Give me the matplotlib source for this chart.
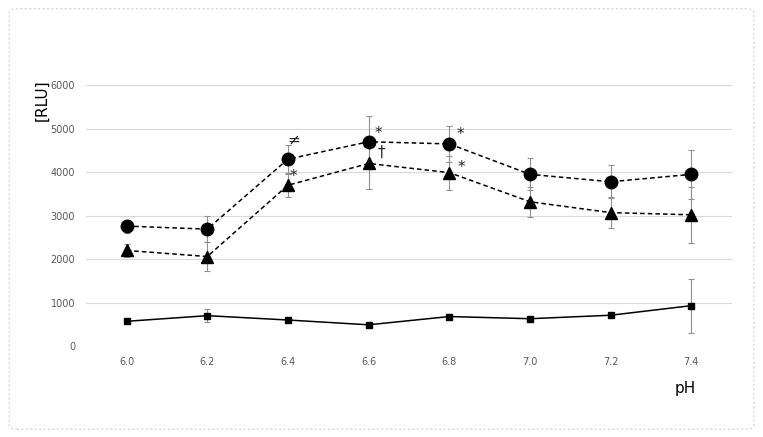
import matplotlib.pyplot as plt
from matplotlib.patches import FancyBboxPatch

ph_labels = ['6.0', '6.2', '6.4', '6.6', '6.8', '7.0', '7.2', '7.4']

circle_vals = [2760, 2690, 4300, 4700, 4650, 3950, 3780, 3950]
circle_err = [150, 300, 330, 590, 420, 370, 380, 560]

triangle_vals = [2200, 2060, 3700, 4200, 3990, 3320, 3070, 3020]
triangle_err = [150, 330, 260, 580, 390, 350, 350, 640]

square_vals = [570, 700, 600, 490, 680, 630, 710, 930]
square_err = [40, 150, 40, 30, 40, 40, 50, 620]

# significance marks: (series, index, symbol, dx, dy) offsets in points
marks = [
    ('circle', 2, '\u2260', 4, 14),
    ('triangle', 2, '*', 4, 6),
    ('circle', 3, '*', 7, 6),
    ('triangle', 3, '\u2020', 9, 8),
    ('circle', 4, '*', 8, 7),
    ('triangle', 4, '*', 9, 4),
]

fig = plt.figure(figsize=(7.63, 4.37), dpi=100)
border = FancyBboxPatch((0.012, 0.018), 0.976, 0.962, boxstyle='round,pad=0,rounding_size=0.01',
                        transform=fig.transFigure, fill=False, edgecolor='#d0d0d0',
                        linestyle=(0, (2, 2)), linewidth=0.8)
fig.patches.append(border)

ax = fig.add_axes([0.113, 0.208, 0.846, 0.597])
x = list(range(len(ph_labels)))

err_kw = dict(ecolor='#909090', elinewidth=0.8, capsize=2, capthick=0.8)
ax.errorbar(x, circle_vals, yerr=circle_err, color='black', linestyle=(0, (3, 2)),
            linewidth=1.1, marker='o', markersize=9, zorder=3, **err_kw)
ax.errorbar(x, triangle_vals, yerr=triangle_err, color='black', linestyle=(0, (3, 2)),
            linewidth=1.1, marker='^', markersize=8, zorder=3, **err_kw)
ax.errorbar(x, square_vals, yerr=square_err, color='black', linestyle='-',
            linewidth=1.1, marker='s', markersize=5, zorder=3, **err_kw)

series = {'circle': circle_vals, 'triangle': triangle_vals}
for name, i, sym, dx, dy in marks:
    ax.annotate(sym, (x[i], series[name][i]), xytext=(dx, dy), textcoords='offset points',
                fontsize=11, ha='center', va='center', color='#222222')

ax.set_xlim(-0.5, 7.5)
ax.set_ylim(0, 6000)
ax.set_yticks(range(0, 6001, 1000))
ax.set_xticks(x)
ax.set_xticklabels(ph_labels)
ax.grid(axis='y', color='#d9d9d9', linewidth=0.8)
ax.set_axisbelow(True)
for s in ax.spines.values():
    s.set_visible(False)
ax.tick_params(length=0, labelsize=7, colors='#595959', pad=8)

fig.text(0.055, 0.77, '[RLU]', rotation=90, fontsize=11, ha='center', va='center')
fig.text(0.898, 0.112, 'pH', fontsize=11, ha='center', va='center')

fig.savefig('out.png', dpi=100)
